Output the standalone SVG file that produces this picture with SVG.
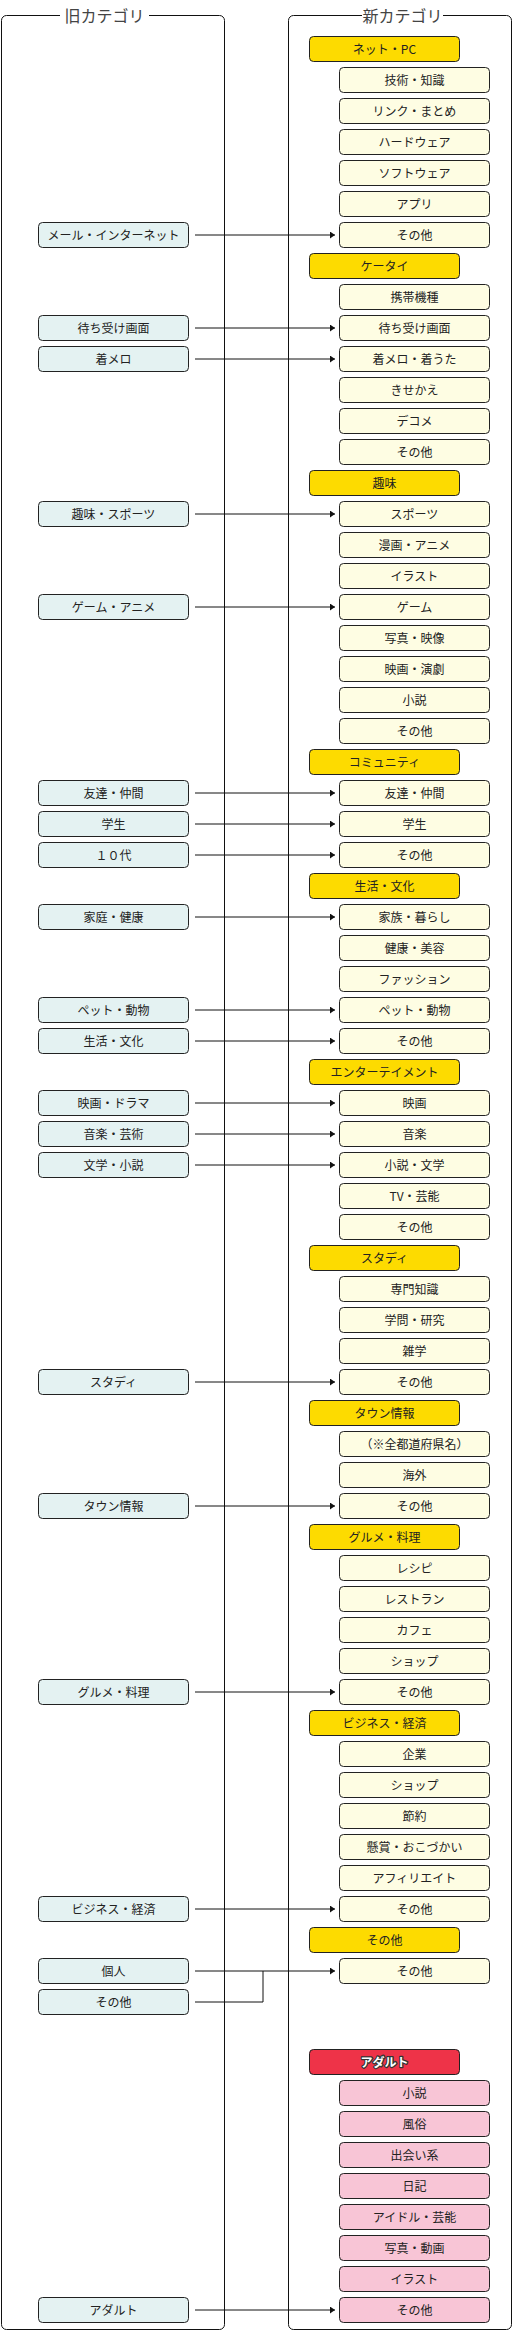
<svg xmlns="http://www.w3.org/2000/svg" width="513" height="2331" viewBox="0 0 513 2331">
<style>
text{font-family:"Noto Sans CJK JP","Noto Sans",sans-serif;font-size:12px;fill:#222;text-anchor:middle}
.title{font-size:16px;fill:#444}
.frame{fill:none;stroke:#111;stroke-width:1}
rect{stroke:#222;stroke-width:1}
.p rect{fill:#FDDB00}
.c rect{fill:#FEFDE3}
.o rect{fill:#E4F2F2}
.r rect{fill:#EE3348}
.k rect{fill:#F8C5D6}
.r text{fill:#fff;stroke:#333;stroke-width:2.5;paint-order:stroke;font-weight:bold;stroke-linejoin:round}
.conn path{fill:none;stroke:#111;stroke-width:1}
</style>
<defs>
<marker id="ah" markerUnits="userSpaceOnUse" markerWidth="6" markerHeight="8" refX="5" refY="3.5" orient="auto"><path d="M0,0 L5,3.5 L0,7 z" fill="#111"/></marker>
</defs>
<g id="frames">
<path class="frame" d="M60,15.5 H6.5 A5,5 0 0 0 1.5,20.5 V2324.5 A5,5 0 0 0 6.5,2329.5 H219.5 A5,5 0 0 0 224.5,2324.5 V20.5 A5,5 0 0 0 219.5,15.5 H149"/>
<text class="title" x="104.5" y="21.5">旧カテゴリ</text>
<path class="frame" d="M362,15.5 H293.5 A5,5 0 0 0 288.5,20.5 V2324.5 A5,5 0 0 0 293.5,2329.5 H506.5 A5,5 0 0 0 511.5,2324.5 V20.5 A5,5 0 0 0 506.5,15.5 H443"/>
<text class="title" x="402.5" y="21.5">新カテゴリ</text>
</g>
<g id="connectors" class="conn">
<path d="M195,235 H335" marker-end="url(#ah)"/>
<path d="M195,328 H335" marker-end="url(#ah)"/>
<path d="M195,359 H335" marker-end="url(#ah)"/>
<path d="M195,514 H335" marker-end="url(#ah)"/>
<path d="M195,607 H335" marker-end="url(#ah)"/>
<path d="M195,793 H335" marker-end="url(#ah)"/>
<path d="M195,824 H335" marker-end="url(#ah)"/>
<path d="M195,855 H335" marker-end="url(#ah)"/>
<path d="M195,917 H335" marker-end="url(#ah)"/>
<path d="M195,1010 H335" marker-end="url(#ah)"/>
<path d="M195,1041 H335" marker-end="url(#ah)"/>
<path d="M195,1103 H335" marker-end="url(#ah)"/>
<path d="M195,1134 H335" marker-end="url(#ah)"/>
<path d="M195,1165 H335" marker-end="url(#ah)"/>
<path d="M195,1382 H335" marker-end="url(#ah)"/>
<path d="M195,1506 H335" marker-end="url(#ah)"/>
<path d="M195,1692 H335" marker-end="url(#ah)"/>
<path d="M195,1909 H335" marker-end="url(#ah)"/>
<path d="M195,1971 H335" marker-end="url(#ah)"/>
<path d="M195,2002 H263 V1971"/>
<path d="M195,2310 H335" marker-end="url(#ah)"/>
</g>
<g id="old">
<g id="o-mail" class="o"><rect x="38.5" y="222.5" width="150" height="25" rx="4"/><text x="113.5" y="239.5">メール・インターネット</text></g>
<g id="o-machiuke" class="o"><rect x="38.5" y="315.5" width="150" height="25" rx="4"/><text x="113.5" y="332.5">待ち受け画面</text></g>
<g id="o-chakumero" class="o"><rect x="38.5" y="346.5" width="150" height="25" rx="4"/><text x="113.5" y="363.5">着メロ</text></g>
<g id="o-sports" class="o"><rect x="38.5" y="501.5" width="150" height="25" rx="4"/><text x="113.5" y="518.5">趣味・スポーツ</text></g>
<g id="o-game" class="o"><rect x="38.5" y="594.5" width="150" height="25" rx="4"/><text x="113.5" y="611.5">ゲーム・アニメ</text></g>
<g id="o-tomodachi" class="o"><rect x="38.5" y="780.5" width="150" height="25" rx="4"/><text x="113.5" y="797.5">友達・仲間</text></g>
<g id="o-gakusei" class="o"><rect x="38.5" y="811.5" width="150" height="25" rx="4"/><text x="113.5" y="828.5">学生</text></g>
<g id="o-10dai" class="o"><rect x="38.5" y="842.5" width="150" height="25" rx="4"/><text x="113.5" y="859.5">１０代</text></g>
<g id="o-katei" class="o"><rect x="38.5" y="904.5" width="150" height="25" rx="4"/><text x="113.5" y="921.5">家庭・健康</text></g>
<g id="o-pet" class="o"><rect x="38.5" y="997.5" width="150" height="25" rx="4"/><text x="113.5" y="1014.5">ペット・動物</text></g>
<g id="o-seikatsu" class="o"><rect x="38.5" y="1028.5" width="150" height="25" rx="4"/><text x="113.5" y="1045.5">生活・文化</text></g>
<g id="o-eiga" class="o"><rect x="38.5" y="1090.5" width="150" height="25" rx="4"/><text x="113.5" y="1107.5">映画・ドラマ</text></g>
<g id="o-ongaku" class="o"><rect x="38.5" y="1121.5" width="150" height="25" rx="4"/><text x="113.5" y="1138.5">音楽・芸術</text></g>
<g id="o-bungaku" class="o"><rect x="38.5" y="1152.5" width="150" height="25" rx="4"/><text x="113.5" y="1169.5">文学・小説</text></g>
<g id="o-study" class="o"><rect x="38.5" y="1369.5" width="150" height="25" rx="4"/><text x="113.5" y="1386.5">スタディ</text></g>
<g id="o-town" class="o"><rect x="38.5" y="1493.5" width="150" height="25" rx="4"/><text x="113.5" y="1510.5">タウン情報</text></g>
<g id="o-gourmet" class="o"><rect x="38.5" y="1679.5" width="150" height="25" rx="4"/><text x="113.5" y="1696.5">グルメ・料理</text></g>
<g id="o-business" class="o"><rect x="38.5" y="1896.5" width="150" height="25" rx="4"/><text x="113.5" y="1913.5">ビジネス・経済</text></g>
<g id="o-kojin" class="o"><rect x="38.5" y="1958.5" width="150" height="25" rx="4"/><text x="113.5" y="1975.5">個人</text></g>
<g id="o-sonota" class="o"><rect x="38.5" y="1989.5" width="150" height="25" rx="4"/><text x="113.5" y="2006.5">その他</text></g>
<g id="o-adult" class="o"><rect x="38.5" y="2297.5" width="150" height="25" rx="4"/><text x="113.5" y="2314.5">アダルト</text></g>
</g>
<g id="new">
<g id="n-net" class="p"><rect x="309.5" y="36.5" width="150" height="25" rx="4"/><text x="384.5" y="53.5">ネット・PC</text></g>
<g id="n-net-1" class="c"><rect x="339.5" y="67.5" width="150" height="25" rx="4"/><text x="414.5" y="84.5">技術・知識</text></g>
<g id="n-net-2" class="c"><rect x="339.5" y="98.5" width="150" height="25" rx="4"/><text x="414.5" y="115.5">リンク・まとめ</text></g>
<g id="n-net-3" class="c"><rect x="339.5" y="129.5" width="150" height="25" rx="4"/><text x="414.5" y="146.5">ハードウェア</text></g>
<g id="n-net-4" class="c"><rect x="339.5" y="160.5" width="150" height="25" rx="4"/><text x="414.5" y="177.5">ソフトウェア</text></g>
<g id="n-net-5" class="c"><rect x="339.5" y="191.5" width="150" height="25" rx="4"/><text x="414.5" y="208.5">アプリ</text></g>
<g id="n-net-6" class="c"><rect x="339.5" y="222.5" width="150" height="25" rx="4"/><text x="414.5" y="239.5">その他</text></g>
<g id="n-keitai" class="p"><rect x="309.5" y="253.5" width="150" height="25" rx="4"/><text x="384.5" y="270.5">ケータイ</text></g>
<g id="n-keitai-1" class="c"><rect x="339.5" y="284.5" width="150" height="25" rx="4"/><text x="414.5" y="301.5">携帯機種</text></g>
<g id="n-keitai-2" class="c"><rect x="339.5" y="315.5" width="150" height="25" rx="4"/><text x="414.5" y="332.5">待ち受け画面</text></g>
<g id="n-keitai-3" class="c"><rect x="339.5" y="346.5" width="150" height="25" rx="4"/><text x="414.5" y="363.5">着メロ・着うた</text></g>
<g id="n-keitai-4" class="c"><rect x="339.5" y="377.5" width="150" height="25" rx="4"/><text x="414.5" y="394.5">きせかえ</text></g>
<g id="n-keitai-5" class="c"><rect x="339.5" y="408.5" width="150" height="25" rx="4"/><text x="414.5" y="425.5">デコメ</text></g>
<g id="n-keitai-6" class="c"><rect x="339.5" y="439.5" width="150" height="25" rx="4"/><text x="414.5" y="456.5">その他</text></g>
<g id="n-shumi" class="p"><rect x="309.5" y="470.5" width="150" height="25" rx="4"/><text x="384.5" y="487.5">趣味</text></g>
<g id="n-shumi-1" class="c"><rect x="339.5" y="501.5" width="150" height="25" rx="4"/><text x="414.5" y="518.5">スポーツ</text></g>
<g id="n-shumi-2" class="c"><rect x="339.5" y="532.5" width="150" height="25" rx="4"/><text x="414.5" y="549.5">漫画・アニメ</text></g>
<g id="n-shumi-3" class="c"><rect x="339.5" y="563.5" width="150" height="25" rx="4"/><text x="414.5" y="580.5">イラスト</text></g>
<g id="n-shumi-4" class="c"><rect x="339.5" y="594.5" width="150" height="25" rx="4"/><text x="414.5" y="611.5">ゲーム</text></g>
<g id="n-shumi-5" class="c"><rect x="339.5" y="625.5" width="150" height="25" rx="4"/><text x="414.5" y="642.5">写真・映像</text></g>
<g id="n-shumi-6" class="c"><rect x="339.5" y="656.5" width="150" height="25" rx="4"/><text x="414.5" y="673.5">映画・演劇</text></g>
<g id="n-shumi-7" class="c"><rect x="339.5" y="687.5" width="150" height="25" rx="4"/><text x="414.5" y="704.5">小説</text></g>
<g id="n-shumi-8" class="c"><rect x="339.5" y="718.5" width="150" height="25" rx="4"/><text x="414.5" y="735.5">その他</text></g>
<g id="n-community" class="p"><rect x="309.5" y="749.5" width="150" height="25" rx="4"/><text x="384.5" y="766.5">コミュニティ</text></g>
<g id="n-community-1" class="c"><rect x="339.5" y="780.5" width="150" height="25" rx="4"/><text x="414.5" y="797.5">友達・仲間</text></g>
<g id="n-community-2" class="c"><rect x="339.5" y="811.5" width="150" height="25" rx="4"/><text x="414.5" y="828.5">学生</text></g>
<g id="n-community-3" class="c"><rect x="339.5" y="842.5" width="150" height="25" rx="4"/><text x="414.5" y="859.5">その他</text></g>
<g id="n-seikatsu" class="p"><rect x="309.5" y="873.5" width="150" height="25" rx="4"/><text x="384.5" y="890.5">生活・文化</text></g>
<g id="n-seikatsu-1" class="c"><rect x="339.5" y="904.5" width="150" height="25" rx="4"/><text x="414.5" y="921.5">家族・暮らし</text></g>
<g id="n-seikatsu-2" class="c"><rect x="339.5" y="935.5" width="150" height="25" rx="4"/><text x="414.5" y="952.5">健康・美容</text></g>
<g id="n-seikatsu-3" class="c"><rect x="339.5" y="966.5" width="150" height="25" rx="4"/><text x="414.5" y="983.5">ファッション</text></g>
<g id="n-seikatsu-4" class="c"><rect x="339.5" y="997.5" width="150" height="25" rx="4"/><text x="414.5" y="1014.5">ペット・動物</text></g>
<g id="n-seikatsu-5" class="c"><rect x="339.5" y="1028.5" width="150" height="25" rx="4"/><text x="414.5" y="1045.5">その他</text></g>
<g id="n-ent" class="p"><rect x="309.5" y="1059.5" width="150" height="25" rx="4"/><text x="384.5" y="1076.5">エンターテイメント</text></g>
<g id="n-ent-1" class="c"><rect x="339.5" y="1090.5" width="150" height="25" rx="4"/><text x="414.5" y="1107.5">映画</text></g>
<g id="n-ent-2" class="c"><rect x="339.5" y="1121.5" width="150" height="25" rx="4"/><text x="414.5" y="1138.5">音楽</text></g>
<g id="n-ent-3" class="c"><rect x="339.5" y="1152.5" width="150" height="25" rx="4"/><text x="414.5" y="1169.5">小説・文学</text></g>
<g id="n-ent-4" class="c"><rect x="339.5" y="1183.5" width="150" height="25" rx="4"/><text x="414.5" y="1200.5">TV・芸能</text></g>
<g id="n-ent-5" class="c"><rect x="339.5" y="1214.5" width="150" height="25" rx="4"/><text x="414.5" y="1231.5">その他</text></g>
<g id="n-study" class="p"><rect x="309.5" y="1245.5" width="150" height="25" rx="4"/><text x="384.5" y="1262.5">スタディ</text></g>
<g id="n-study-1" class="c"><rect x="339.5" y="1276.5" width="150" height="25" rx="4"/><text x="414.5" y="1293.5">専門知識</text></g>
<g id="n-study-2" class="c"><rect x="339.5" y="1307.5" width="150" height="25" rx="4"/><text x="414.5" y="1324.5">学問・研究</text></g>
<g id="n-study-3" class="c"><rect x="339.5" y="1338.5" width="150" height="25" rx="4"/><text x="414.5" y="1355.5">雑学</text></g>
<g id="n-study-4" class="c"><rect x="339.5" y="1369.5" width="150" height="25" rx="4"/><text x="414.5" y="1386.5">その他</text></g>
<g id="n-town" class="p"><rect x="309.5" y="1400.5" width="150" height="25" rx="4"/><text x="384.5" y="1417.5">タウン情報</text></g>
<g id="n-town-1" class="c"><rect x="339.5" y="1431.5" width="150" height="25" rx="4"/><text x="414.5" y="1448.5">（※全都道府県名）</text></g>
<g id="n-town-2" class="c"><rect x="339.5" y="1462.5" width="150" height="25" rx="4"/><text x="414.5" y="1479.5">海外</text></g>
<g id="n-town-3" class="c"><rect x="339.5" y="1493.5" width="150" height="25" rx="4"/><text x="414.5" y="1510.5">その他</text></g>
<g id="n-gourmet" class="p"><rect x="309.5" y="1524.5" width="150" height="25" rx="4"/><text x="384.5" y="1541.5">グルメ・料理</text></g>
<g id="n-gourmet-1" class="c"><rect x="339.5" y="1555.5" width="150" height="25" rx="4"/><text x="414.5" y="1572.5">レシピ</text></g>
<g id="n-gourmet-2" class="c"><rect x="339.5" y="1586.5" width="150" height="25" rx="4"/><text x="414.5" y="1603.5">レストラン</text></g>
<g id="n-gourmet-3" class="c"><rect x="339.5" y="1617.5" width="150" height="25" rx="4"/><text x="414.5" y="1634.5">カフェ</text></g>
<g id="n-gourmet-4" class="c"><rect x="339.5" y="1648.5" width="150" height="25" rx="4"/><text x="414.5" y="1665.5">ショップ</text></g>
<g id="n-gourmet-5" class="c"><rect x="339.5" y="1679.5" width="150" height="25" rx="4"/><text x="414.5" y="1696.5">その他</text></g>
<g id="n-business" class="p"><rect x="309.5" y="1710.5" width="150" height="25" rx="4"/><text x="384.5" y="1727.5">ビジネス・経済</text></g>
<g id="n-business-1" class="c"><rect x="339.5" y="1741.5" width="150" height="25" rx="4"/><text x="414.5" y="1758.5">企業</text></g>
<g id="n-business-2" class="c"><rect x="339.5" y="1772.5" width="150" height="25" rx="4"/><text x="414.5" y="1789.5">ショップ</text></g>
<g id="n-business-3" class="c"><rect x="339.5" y="1803.5" width="150" height="25" rx="4"/><text x="414.5" y="1820.5">節約</text></g>
<g id="n-business-4" class="c"><rect x="339.5" y="1834.5" width="150" height="25" rx="4"/><text x="414.5" y="1851.5">懸賞・おこづかい</text></g>
<g id="n-business-5" class="c"><rect x="339.5" y="1865.5" width="150" height="25" rx="4"/><text x="414.5" y="1882.5">アフィリエイト</text></g>
<g id="n-business-6" class="c"><rect x="339.5" y="1896.5" width="150" height="25" rx="4"/><text x="414.5" y="1913.5">その他</text></g>
<g id="n-other" class="p"><rect x="309.5" y="1927.5" width="150" height="25" rx="4"/><text x="384.5" y="1944.5">その他</text></g>
<g id="n-other-1" class="c"><rect x="339.5" y="1958.5" width="150" height="25" rx="4"/><text x="414.5" y="1975.5">その他</text></g>
<g id="n-adult" class="r"><rect x="309.5" y="2049.5" width="150" height="25" rx="4"/><text x="384.5" y="2066.5">アダルト</text></g>
<g id="n-adult-1" class="k"><rect x="339.5" y="2080.5" width="150" height="25" rx="4"/><text x="414.5" y="2097.5">小説</text></g>
<g id="n-adult-2" class="k"><rect x="339.5" y="2111.5" width="150" height="25" rx="4"/><text x="414.5" y="2128.5">風俗</text></g>
<g id="n-adult-3" class="k"><rect x="339.5" y="2142.5" width="150" height="25" rx="4"/><text x="414.5" y="2159.5">出会い系</text></g>
<g id="n-adult-4" class="k"><rect x="339.5" y="2173.5" width="150" height="25" rx="4"/><text x="414.5" y="2190.5">日記</text></g>
<g id="n-adult-5" class="k"><rect x="339.5" y="2204.5" width="150" height="25" rx="4"/><text x="414.5" y="2221.5">アイドル・芸能</text></g>
<g id="n-adult-6" class="k"><rect x="339.5" y="2235.5" width="150" height="25" rx="4"/><text x="414.5" y="2252.5">写真・動画</text></g>
<g id="n-adult-7" class="k"><rect x="339.5" y="2266.5" width="150" height="25" rx="4"/><text x="414.5" y="2283.5">イラスト</text></g>
<g id="n-adult-8" class="k"><rect x="339.5" y="2297.5" width="150" height="25" rx="4"/><text x="414.5" y="2314.5">その他</text></g>
</g>
</svg>
